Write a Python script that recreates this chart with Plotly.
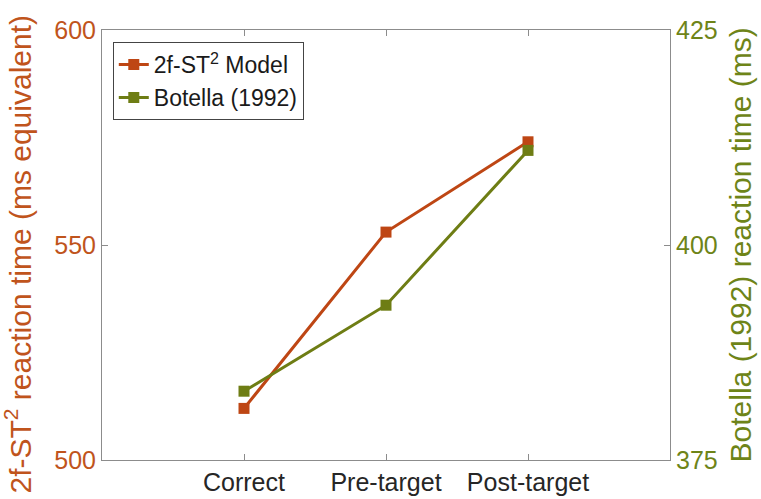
import plotly.graph_objects as go

# Conditions and mean reaction times
conditions = ["Correct", "Pre-target", "Post-target"]
model_rt = [512, 553, 574]          # 2f-ST^2 model, ms equivalent
botella_rt = [383, 393, 411]        # Botella (1992), ms

model_color = "#BE4614"
botella_color = "#6E7D14"
model_text = "#C0541C"
botella_text = "#6E8418"
axis_gray = "#8C8C8C"
font_family = "Liberation Sans, Arial, sans-serif"

fig = go.Figure()
fig.add_trace(go.Scatter(
    x=conditions, y=model_rt, name="2f-ST<sup>2</sup> Model",
    mode="lines+markers",
    line=dict(color=model_color, width=3),
    marker=dict(symbol="square", size=11, color=model_color),
    yaxis="y",
))
fig.add_trace(go.Scatter(
    x=conditions, y=botella_rt, name="Botella (1992)",
    mode="lines+markers",
    line=dict(color=botella_color, width=3),
    marker=dict(symbol="square", size=11, color=botella_color),
    yaxis="y2",
))

fig.update_layout(
    width=761, height=499,
    margin=dict(l=102, r=91, t=30, b=39),
    paper_bgcolor="white", plot_bgcolor="white",
    font=dict(family=font_family, size=25, color="#262626"),
    showlegend=True,
    legend=dict(
        x=0.019, y=0.972, xanchor="left", yanchor="top",
        bgcolor="white", bordercolor="#444444", borderwidth=1,
        font=dict(size=23, color="#1a1a1a"),
        tracegroupgap=0, itemwidth=30,
    ),
    xaxis=dict(
        type="category", range=[-1, 3], automargin=False,
        showline=True, linecolor=axis_gray, linewidth=1, mirror="ticks",
        ticks="inside", ticklen=6, tickcolor=axis_gray,
        showgrid=False, zeroline=False,
        tickfont=dict(size=25, color="#262626"),
    ),
    yaxis=dict(
        range=[500, 600], tickvals=[500, 550, 600], automargin=False,
        showline=True, linecolor=axis_gray, linewidth=1,
        ticks="inside", ticklen=6, tickcolor=axis_gray,
        showgrid=False, zeroline=False,
        tickfont=dict(size=25, color=model_text),
    ),
    yaxis2=dict(
        range=[375, 425], tickvals=[375, 400, 425], automargin=False,
        overlaying="y", side="right",
        showline=True, linecolor=axis_gray, linewidth=1,
        ticks="inside", ticklen=6, tickcolor=axis_gray,
        showgrid=False, zeroline=False,
        tickfont=dict(size=25, color=botella_text),
    ),
)

# Axis titles, placed as rotated annotations beside each y axis
fig.add_annotation(
    text="2f-ST<sup>2</sup> reaction time (ms equivalent)",
    xref="paper", yref="paper", x=-0.148, y=0.48,
    xanchor="center", yanchor="middle", textangle=-90, showarrow=False,
    font=dict(size=30, color=model_text),
)
fig.add_annotation(
    text="Botella (1992) reaction time (ms)",
    xref="paper", yref="paper", x=1.124, y=0.5,
    xanchor="center", yanchor="middle", textangle=-90, showarrow=False,
    font=dict(size=30, color=botella_text),
)

fig.write_html("out.html")
